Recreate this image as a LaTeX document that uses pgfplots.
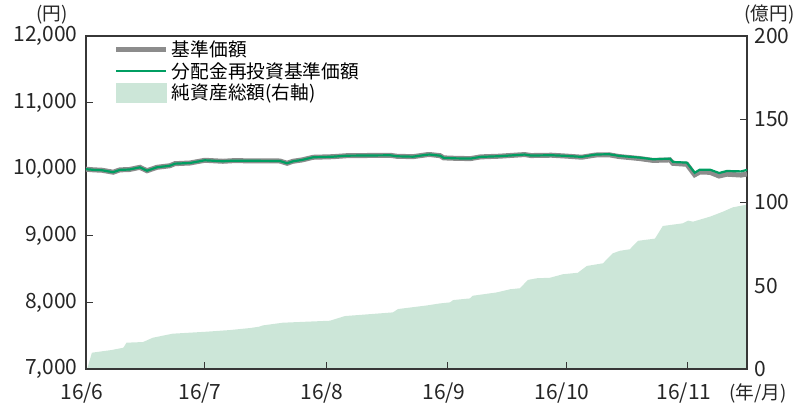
\documentclass[border=0pt]{standalone}
\usepackage{fontspec}
\setmainfont{Noto Sans CJK JP}
\usepackage{pgfplots}
\usepackage{pgfplotstable}
\pgfplotsset{compat=1.18}

\definecolor{navgray}{RGB}{140,140,140}
\definecolor{navgreen}{RGB}{0,158,98}
\definecolor{aumfill}{RGB}{204,230,216}
\definecolor{axcol}{RGB}{55,55,55}

\newcommand\chfont{\fontsize{18.7bp}{22bp}\selectfont}
\newcommand\numfont{\fontsize{21bp}{24bp}\selectfont}

% day index: 0 = 2016/6/1
\pgfplotstableread{
d     nav    navr
0     10000  10000
2     9990   9990
4     9985   9985
6.9   9955   9955
8.6   9990   9990
11    9995   9995
13.7  10028  10028
15.5  9977   9977
18    10028  10028
21.3  10052  10052
22.6  10083  10083
26.4  10093  10093
30.2  10134  10134
34.8  10119  10119
37.4  10128  10128
42    10126  10126
46    10125  10125
49.3  10123  10123
51.1  10089  10089
52.6  10119  10119
55    10140  10140
57.7  10179  10179
62.8  10188  10188
66.3  10203  10203
72    10206  10206
77.3  10209  10209
79    10194  10194
83.1  10188  10188
86.7  10218  10218
87.4  10220  10220
90    10203  10203
90.9  10170  10170
94    10163  10163
97.7  10159  10159
100.3 10185  10185
105   10195  10195
111.5 10220  10220
113.1 10205  10205
118.3 10210  10210
122   10197  10200
126   10180  10185
129.5 10213  10220
132.9 10217  10225
135.5 10190  10200
140.7 10160  10174
144.1 10132  10149
148.4 10139  10159
149.2 10088  10108
152.7 10074  10099
154.7 9916   9946
156   9958   9993
158.6 9953   9993
160.9 9898   9943
162.9 9925   9973
166.5 9912   9967
168   9928   9990
}\navtable

\pgfplotstableread{
d     v
0.3   0
1.5   9.8
6.5   11.4
9.5   12.8
10.3  15.8
14.5  16.2
17    18.8
22    21.2
30.6  22.4
36.6  23.4
41.7  24.6
44    25.4
45    26.2
50    27.8
62    29.0
65.8  31.8
71.4  32.8
78    34.0
79.3  36.0
86.7  38.2
90    39.4
92.5  40.0
93.3  41.4
97.6  42.4
98.3  44.0
104.4 46.0
107.8 47.9
110.3 48.5
112.3 53.5
114.6 54.5
117.9 54.8
121.2 56.9
125   57.8
127.3 61.9
131.4 63.5
133.9 69.5
135.7 71.0
138.2 71.9
140.3 77.0
144.6 78.3
146.6 85.9
151.7 87.5
153   89.1
154.3 88.5
158.6 91.5
161.9 94.5
164.4 97.1
167.5 98.5
168   98.5
}\aumtable

\pgfplotsset{
  base/.style={
    width=661bp, height=333bp, scale only axis,
    xmin=0, xmax=168,
    axis line style={axcol, line width=1.1bp},
    tick style={axcol, line width=1bp},
    major tick length=7bp, tick align=inside,
    tick label style={font=\numfont, text=black!85},
    scaled y ticks=false,
    /pgf/number format/assume math mode=true,
  },
}

\begin{document}
\begin{tikzpicture}
% right axis: net assets
\begin{axis}[base,
  hide x axis,
  axis y line*=right,
  ymin=0, ymax=200,
  ytick={0,50,100,150,200},
  yticklabel style={xshift=4bp},
]
\addplot[fill=aumfill, draw=none] table[x=d, y=v]{\aumtable} \closedcycle;
\end{axis}
% left axis: NAV
\begin{axis}[base,
  name=main,
  ymin=7000, ymax=12000,
  ytick={7000,8000,...,12000},
  ytick pos=left, xtick pos=bottom,
  /pgf/number format/1000 sep={,},
  yticklabel style={xshift=-5bp},
  xtick={0,30,61,92,122,153},
  xticklabels={16/6,16/7,16/8,16/9,16/10,16/11},
  xticklabel style={xshift=-4bp, yshift=-10bp},
  legend cell align=left,
  legend style={draw=none, fill=none, at={(0.042,0.99)}, anchor=north west,
    inner sep=0pt, row sep=2.5bp,
    font=\chfont,
    nodes={inner xsep=3bp, inner ysep=1bp}},
  legend image code/.code={\draw[#1] (0bp,0bp) -- (50bp,0bp);},
]
\addplot[navgray, line width=5bp] table[x=d, y=nav]{\navtable};
\addlegendentry{基準価額}
\addplot[navgreen, line width=2.2bp] table[x=d, y=navr]{\navtable};
\addlegendentry{分配金再投資基準価額}
\addlegendimage{legend image code/.code={\fill[aumfill] (0bp,-9.5bp) rectangle (50bp,9.5bp);}}
\addlegendentry{純資産総額(右軸)}
\end{axis}
\node[anchor=east, font=\chfont, text=black!85, inner ysep=1bp]
  at ([shift={(-15bp,21bp)}]main.north west) {(円)};
\node[anchor=east, font=\chfont, text=black!85, inner ysep=1bp]
  at ([shift={(51bp,21bp)}]main.north east) {(億円)};
\node[anchor=west, font=\chfont, text=black!85]
  at ([shift={(-21bp,-24bp)}]main.south east) {(年/月)};
\pgfresetboundingbox
\path ([shift={(-86bp,-39bp)}]main.south west) rectangle ([shift={(55bp,36bp)}]main.north east);
\end{tikzpicture}
\end{document}
